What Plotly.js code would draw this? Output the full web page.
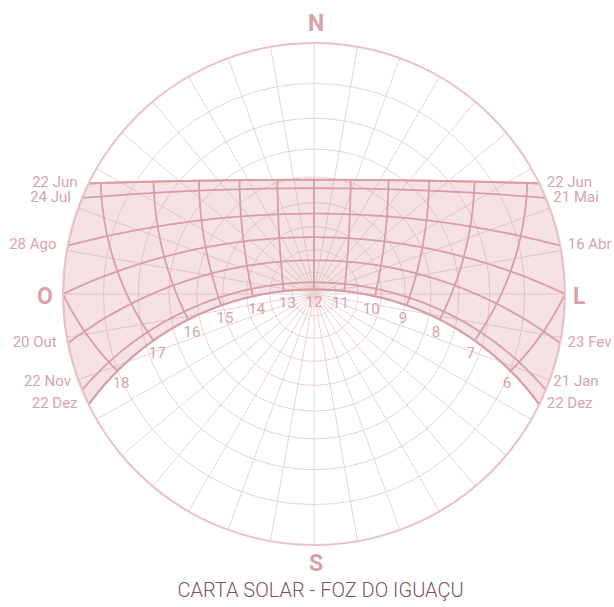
<!DOCTYPE html>
<html><head><meta charset="utf-8">
<script src="https://cdn.plot.ly/plotly-3.0.1.min.js"></script>
<style>html,body{margin:0;padding:0;background:#fff}#chart{width:614px;height:607px}</style>
</head><body><div id="chart"></div>
<script>
// ---- data ----
const LATITUDE = -25.5;                       // Foz do Iguaçu
const declinations = [23.44, 20.2, 10.0, 0.0, -10.2, -20.2, -23.44];
const westLabels = ['22 Jun', '24 Jul', '28 Ago', '', '20 Out', '22 Nov', '22 Dez'];
const eastLabels = ['22 Jun', '21 Mai', '16 Abr', '', '23 Fev', '21 Jan', '22 Dez'];
const hours = [6, 7, 8, 9, 10, 11, 12, 13, 14, 15, 16, 17, 18];
const hourLabels = ['6', '7', '8', '9', '10', '11', '12', '13', '14', '15', '16', '17', '18'];
const altitudeCircles = [10, 20, 30, 40, 50, 60, 70, 80];
const cardinalLabels = ['N', 'L', 'S', 'O'];
const titleText = 'CARTA SOLAR - FOZ DO IGUAÇU';

// ---- geometry (stereographic sun chart) ----
const D = Math.PI / 180;
function sunPos(dec, H) {
  const p = LATITUDE * D, d = dec * D, h = H * D;
  const E = -Math.cos(d) * Math.sin(h);
  const N = Math.sin(d) * Math.cos(p) - Math.cos(d) * Math.cos(h) * Math.sin(p);
  const U = Math.sin(d) * Math.sin(p) + Math.cos(d) * Math.cos(h) * Math.cos(p);
  const alt = Math.asin(Math.max(-1, Math.min(1, U))) / D;
  let az = Math.atan2(E, N) / D; if (az < 0) az += 360;
  return { alt: Math.max(alt, 0), az, U };
}
const stereo = alt => Math.tan((90 - alt) / 2 * D);
const halfDay = dec => Math.acos(-Math.tan(LATITUDE * D) * Math.tan(dec * D)) / D;

function dayPath(dec, reverse) {
  const H0 = halfDay(dec), n = 180, r = [], t = [];
  for (let i = 0; i <= n; i++) {
    const H = -H0 + 2 * H0 * (reverse ? (n - i) : i) / n;
    const s = sunPos(dec, H);
    r.push(stereo(s.alt)); t.push(s.az);
  }
  return { r, t };
}
function horizonArc(a1, a2) {
  const n = 60, r = [], t = [];
  for (let i = 0; i <= n; i++) { r.push(1); t.push(a1 + (a2 - a1) * i / n); }
  return { r, t };
}
function hourPath(h) {
  const H = (h - 12) * 15, r = [], t = [];
  const dMin = declinations[declinations.length - 1], dMax = declinations[0];
  const n = 160;
  for (let i = 0; i <= n; i++) {
    const dec = dMin + (dMax - dMin) * i / n;
    const s = sunPos(dec, H);
    if (s.U >= -1e-9) { r.push(stereo(s.alt)); t.push(s.az); }
  }
  return { r, t };
}

const lineCol = '#d99fa4';
const labelCol = '#d6a5a8';
const FONT = 'Roboto, sans-serif';
const NB = '\u00a0';
const traces = [];

// shaded band between the solstices
{
  const top = dayPath(declinations[0], false);
  const bot = dayPath(declinations[declinations.length - 1], true);
  const wArc = horizonArc(top.t[top.t.length - 1], bot.t[0]);
  const eArc = horizonArc(bot.t[bot.t.length - 1], top.t[0]);
  traces.push({
    type: 'scatterpolar', mode: 'lines',
    r: [...top.r, ...wArc.r, ...bot.r, ...eArc.r],
    theta: [...top.t, ...wArc.t, ...bot.t, ...eArc.t],
    fill: 'toself', fillcolor: 'rgba(217,160,164,0.3)',
    line: { color: lineCol, width: 2 }, hoverinfo: 'skip', showlegend: false
  });
}
// day (declination) lines
declinations.forEach(dec => {
  const p = dayPath(dec, false);
  traces.push({ type: 'scatterpolar', mode: 'lines', r: p.r, theta: p.t,
    line: { color: lineCol, width: 1.8 }, hoverinfo: 'skip', showlegend: false });
});
// hour lines
hours.forEach(h => {
  const p = hourPath(h);
  traces.push({ type: 'scatterpolar', mode: 'lines', r: p.r, theta: p.t,
    line: { color: lineCol, width: 1.8 }, hoverinfo: 'skip', showlegend: false });
});
// hour labels (just below the 22 Dez path)
{
  const dec = declinations[declinations.length - 1];
  const pts = hours.map(h => sunPos(dec, (h - 12) * 15));
  const txt = hourLabels.map((s, i) => hours[i] < 12 ? s + NB + NB : (hours[i] > 12 ? NB + NB + s : s));
  traces.push({ type: 'scatterpolar', mode: 'markers+text',
    r: pts.map(s => stereo(s.alt)), theta: pts.map(s => s.az), text: txt,
    marker: { size: 8, color: 'rgba(0,0,0,0)' },
    textposition: 'bottom center', cliponaxis: false,
    textfont: { family: FONT, size: 15, color: labelCol },
    hoverinfo: 'skip', showlegend: false });
}
// date labels at sunrise / sunset points
{
  const az = d => Math.acos(Math.sin(d * D) / Math.cos(LATITUDE * D)) / D;
  const wT = declinations.map(d => 360 - az(d));
  const eT = declinations.map(d => az(d));
  const font = { family: FONT, size: 15, color: labelCol };
  const lowPair = declinations.map((d, i) => i === 5);
  traces.push({ type: 'scatterpolar', mode: 'text', r: wT.map(() => 1), theta: wT,
    text: westLabels.map(s => s + NB + NB + NB),
    textposition: lowPair.map(b => b ? 'top left' : 'middle left'), cliponaxis: false,
    textfont: font, hoverinfo: 'skip', showlegend: false });
  traces.push({ type: 'scatterpolar', mode: 'text', r: eT.map(() => 1), theta: eT,
    text: eastLabels.map(s => NB + NB + s),
    textposition: lowPair.map(b => b ? 'top right' : 'middle right'), cliponaxis: false,
    textfont: font, hoverinfo: 'skip', showlegend: false });
}

const gridCol = '#ead2d3';
const cardFont = { family: FONT, size: 23, color: '#d9a2a6', weight: 700 };
const layout = {
  width: 614, height: 607,
  margin: { l: 0, r: 0, t: 0, b: 0 },
  paper_bgcolor: '#ffffff',
  showlegend: false,
  title: { text: titleText, x: 0.522, xanchor: 'center', y: 0.028, yanchor: 'middle',
    font: { family: FONT, size: 20, weight: 300, color: '#7b5558' } },
  polar: {
    domain: { x: [63 / 614, 565 / 614], y: [62 / 607, 564 / 607] },
    bgcolor: '#ffffff',
    radialaxis: { range: [0, 1], tickmode: 'array', tickvals: altitudeCircles.map(stereo),
      showticklabels: false, ticks: '', showline: false, gridcolor: gridCol, gridwidth: 1 },
    angularaxis: { direction: 'clockwise', rotation: 90, tickmode: 'linear', tick0: 0, dtick: 10,
      showticklabels: false, ticks: '', gridcolor: gridCol, gridwidth: 1,
      showline: true, linecolor: '#e8c4c6', linewidth: 2 }
  },
  annotations: [
    { text: cardinalLabels[0], x: 316 / 614, y: 1 - 24 / 607 },
    { text: cardinalLabels[1], x: 579 / 614, y: 1 - 296 / 607 },
    { text: cardinalLabels[2], x: 316 / 614, y: 1 - 563 / 607 },
    { text: cardinalLabels[3], x: 45 / 614, y: 1 - 296 / 607 }
  ].map(a => Object.assign(a, { xref: 'paper', yref: 'paper', xanchor: 'center', yanchor: 'middle',
    showarrow: false, font: cardFont }))
};
Plotly.newPlot('chart', traces, layout, { displayModeBar: false, staticPlot: true });
</script></body></html>
